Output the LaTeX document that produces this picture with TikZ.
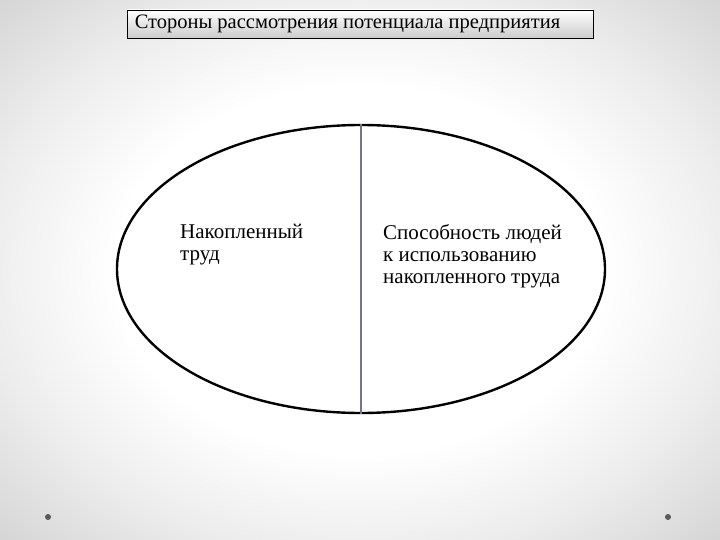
\documentclass[tikz,border=0pt]{standalone}
\usepackage{fontspec}
\setmainfont{Liberation Serif}
\usetikzlibrary{shapes.geometric, positioning}

\pgfdeclareradialshading{slidebg}{\pgfpoint{0bp}{0bp}}{color(0bp)=(white); color(17bp)=(white); color(26bp)=(gray!14); color(35bp)=(gray!32); color(50bp)=(gray!32)}

\tikzset{
    titlebox/.style={draw=black, line width=0.8pt, top color=white, bottom color=gray!40, minimum width=466pt, minimum height=28pt, inner sep=0pt},
    oval/.style={ellipse, draw=black, line width=2.4pt, fill=white, minimum width=488pt, minimum height=288pt, inner sep=0pt},
    plaintext/.style={anchor=north west, align=left, inner sep=0pt, font=\fontsize{21}{22}\selectfont},
    dot/.style={circle, fill=gray!70!black, minimum size=6pt, inner sep=0pt}
}

\begin{document}
\begin{tikzpicture}[x=1pt, y=-1pt]
    % slide background
    \shade[shading=slidebg] (0,0) rectangle (720,540);
    \useasboundingbox (0,0) rectangle (720,540);

    % title
    \node[titlebox] (title) at (360,24) {};
    \node[anchor=west, inner sep=0pt, font=\fontsize{20.5}{22}\selectfont] (titletext) at ([xshift=8pt]title.west) {Стороны рассмотрения потенциала предприятия};

    % oval split in two halves
    \node[oval] (whole) at (361,269) {};
    \draw[gray!92!blue, line width=1.2pt] (whole.north) -- (whole.south);

    % texts of the halves
    \node[plaintext] (labour) at (180,224) {Накопленный\\труд};
    \node[plaintext] (ability) at (383,224) {Способность людей\\к использованию\\накопленного труда};

    % corner dots
    \node[dot] (dotleft) at (48,517) {};
    \node[dot] (dotright) at (668,517) {};
\end{tikzpicture}
\end{document}
